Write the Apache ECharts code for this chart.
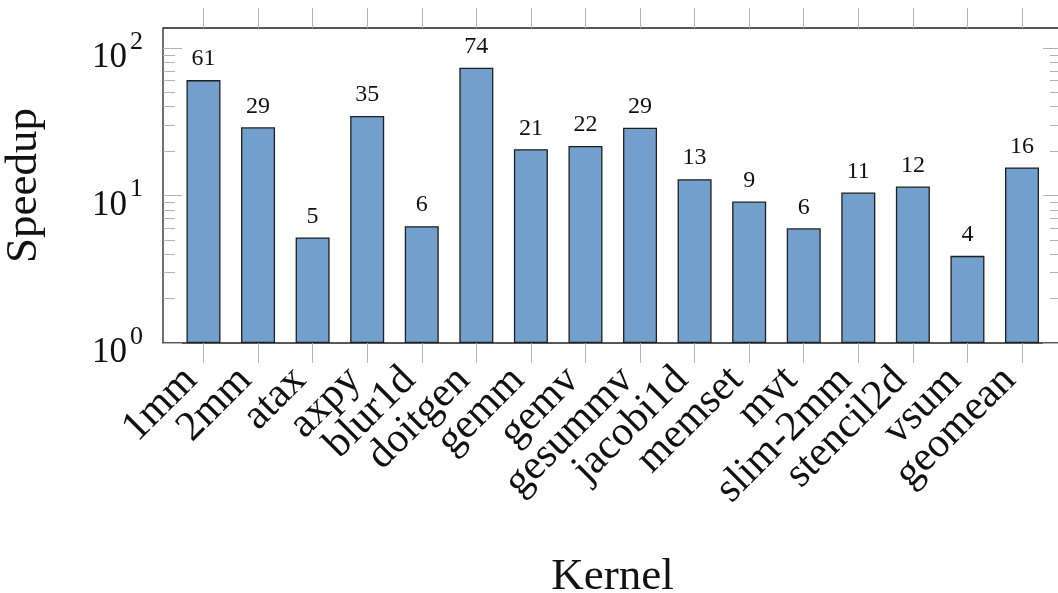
<!DOCTYPE html>
<html>
<head>
<meta charset="utf-8">
<script src="https://cdn.jsdelivr.net/npm/echarts@6/dist/echarts.min.js"></script>
<style>html,body{margin:0;padding:0;background:#fff;}#c{width:1058px;height:593px;}</style>
</head>
<body>
<div id="c"></div>
<script>
var categories = ['1mm','2mm','atax','axpy','blur1d','doitgen','gemm','gemv','gesummv','jacobi1d','memset','mvt','slim-2mm','stencil2d','vsum','geomean'];
var speedup = [60.6, 29.0, 5.2, 34.6, 6.2, 73.6, 20.6, 21.7, 28.8, 12.9, 9.1, 6.0, 10.5, 11.5, 3.9, 15.5];
var majorTicks = [1, 10, 100];
var minorTicks = [2,3,4,5,6,7,8,9,20,30,40,50,60,70,80,90];
var yMin = 1, yMax = 136.7;

var FONT = 'Liberation Serif';
var tickColor = '#b3b3b3';
var chart = echarts.init(document.getElementById('c'));

function logAxis(grid, pos, values, len, labels, extra) {
  var a = {
    type: 'log', logBase: 10, gridIndex: grid, position: pos, min: yMin, max: yMax,
    axisLine: {show: false}, splitLine: {show: false}, minorTick: {show: false},
    axisTick: {show: true, inside: true, length: len, customValues: values, lineStyle: {color: tickColor, width: 1}},
    axisLabel: {show: labels, customValues: values}
  };
  if (extra) for (var k in extra) a[k] = extra[k];
  return a;
}

var yLabelAxis = logAxis(1, 'left', majorTicks, 19, true, {
  name: 'Speedup', nameLocation: 'middle', nameGap: 116, nameRotate: 90,
  nameTextStyle: {fontFamily: FONT, fontSize: 45, color: '#111'}
});
yLabelAxis.axisLabel = {
  show: true, customValues: majorTicks, margin: 20, fontFamily: FONT, color: '#111',
  formatter: function (v) { return '{b|10}{s|' + Math.round(Math.log10(v)) + '}'; },
  rich: {
    b: {fontFamily: FONT, fontSize: 35, color: '#111', padding: [20, 0, 0, 0]},
    s: {fontFamily: FONT, fontSize: 26, color: '#111', padding: [0, 0, 12, 3]}
  }
};

var option = {
  animation: false,
  backgroundColor: '#fff',
  grid: [
    {left: 176.2, right: 8.7, top: 28, bottom: 250, outerBoundsMode: 'none', containLabel: false},
    {left: 163, right: -4, top: 28, bottom: 250, outerBoundsMode: 'none', containLabel: false,
     show: true, borderColor: '#222', borderWidth: 1.3, backgroundColor: 'rgba(0,0,0,0)'}
  ],
  xAxis: [
    {type: 'category', gridIndex: 0, position: 'bottom', data: categories,
     axisLine: {show: false},
     axisTick: {show: true, interval: 0, alignWithLabel: true, length: 20, lineStyle: {color: tickColor, width: 1}},
     axisLabel: {interval: 0, rotate: 45, margin: 18, padding: [0, 18, 0, 0], fontFamily: FONT, fontSize: 42, color: '#111'}},
    {type: 'category', gridIndex: 0, position: 'top', data: categories,
     axisLine: {show: false}, axisLabel: {show: false},
     axisTick: {show: true, interval: 0, alignWithLabel: true, length: 20, lineStyle: {color: tickColor, width: 1}}},
    {type: 'value', gridIndex: 1, min: 0, max: 1, position: 'bottom',
     axisLine: {show: false}, axisTick: {show: false}, axisLabel: {show: false}, splitLine: {show: false},
     name: 'Kernel', nameLocation: 'middle', nameGap: 212,
     nameTextStyle: {fontFamily: FONT, fontSize: 45, color: '#111'}}
  ],
  yAxis: [
    {type: 'log', logBase: 10, gridIndex: 0, min: yMin, max: yMax, show: false},
    yLabelAxis,
    logAxis(1, 'left', minorTicks, 12, false),
    logAxis(1, 'right', majorTicks, 19, false),
    logAxis(1, 'right', minorTicks, 12, false)
  ],
  series: [{
    type: 'bar', xAxisIndex: 0, yAxisIndex: 0, data: speedup, barWidth: 34,
    itemStyle: {color: '#729fcb', borderColor: '#1f1f1f', borderWidth: 1.3},
    label: {show: true, position: 'top', distance: 9, fontFamily: FONT, fontSize: 24, color: '#111',
      formatter: function (p) { return Math.round(p.value); }}
  }]
};
chart.setOption(option);
</script>
</body>
</html>
